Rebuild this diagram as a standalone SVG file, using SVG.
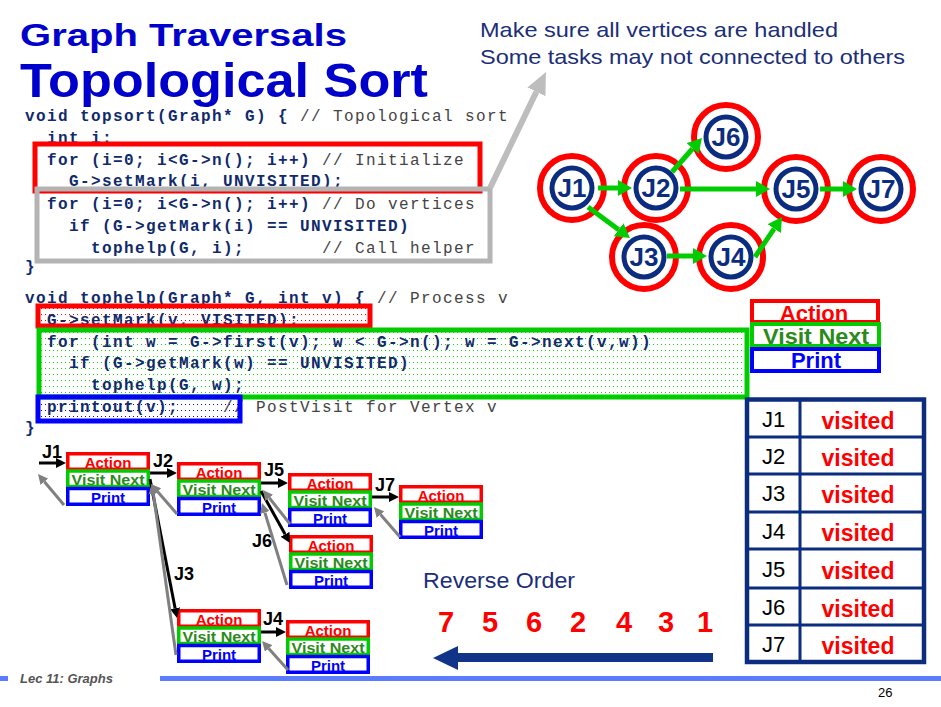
<svg xmlns="http://www.w3.org/2000/svg" width="941" height="707" viewBox="0 0 941 707">
<style>
  .title { font-family: "Liberation Sans", Arial, sans-serif; font-weight: bold; fill: #0000CC; }
  .note { font-family: "Liberation Sans", Arial, sans-serif; font-size: 21px; fill: #1B2E78; }
  .code { font-family: "Liberation Mono", "Courier New", monospace; font-size: 16px; font-weight: bold; letter-spacing: 1.4px; fill: #102A6B; }
  .cmt { font-weight: normal; fill: #444444; }
  .ring { fill: #FFFFFF; stroke: #FF0000; stroke-width: 6; }
  .core { fill: #FFFFFF; stroke: #0B2C7F; stroke-width: 5; }
  .nlabel { font-family: "Liberation Sans", Arial, sans-serif; font-size: 26px; font-weight: bold; fill: #0B2C7F; text-anchor: middle; }
  .edge { stroke: #00CC00; stroke-width: 5; fill: none; marker-end: url(#headG); }
  .call { stroke: #000000; stroke-width: 3; fill: none; marker-end: url(#headK); }
  .ret { stroke: #808080; stroke-width: 3; fill: none; marker-end: url(#headGr); }
  .bR { fill: none; stroke: #FF0000; }
  .bG { fill: none; stroke: #00CC00; }
  .bB { fill: none; stroke: #0000FF; }
  .tA { font-family: "Liberation Sans", Arial, sans-serif; font-weight: bold; fill: #FF0000; text-anchor: middle; }
  .tV { font-family: "Liberation Sans", Arial, sans-serif; font-weight: bold; fill: #2A8A1A; text-anchor: middle; }
  .tP { font-family: "Liberation Sans", Arial, sans-serif; font-weight: bold; fill: #0000FF; text-anchor: middle; }
  .jl { font-family: "Liberation Sans", Arial, sans-serif; font-size: 18px; font-weight: bold; fill: #000000; }
  .tj { font-family: "Liberation Sans", Arial, sans-serif; font-size: 22px; fill: #000000; }
  .tv { font-family: "Liberation Sans", Arial, sans-serif; font-size: 23px; font-weight: bold; fill: #FF0000; text-anchor: middle; }
  .num { font-family: "Liberation Sans", Arial, sans-serif; font-size: 29px; font-weight: bold; fill: #FF0000; text-anchor: middle; }
</style>
<defs>
  <pattern id="dotsR" width="4" height="6" patternUnits="userSpaceOnUse"><rect x="1" y="2" width="1" height="1" fill="#FF0000"/></pattern>
  <pattern id="dotsG" width="4" height="6" patternUnits="userSpaceOnUse"><rect x="1" y="2" width="1" height="1" fill="#00DD00"/></pattern>
  <pattern id="dotsB" width="4" height="6" patternUnits="userSpaceOnUse"><rect x="1" y="2" width="1" height="1" fill="#0000FF"/></pattern>
  <marker id="headG" markerUnits="userSpaceOnUse" markerWidth="14" markerHeight="16" refX="0" refY="8" orient="auto">
    <path d="M0,0 L14,8 L0,16 Z" fill="#00CC00"/>
  </marker>
  <marker id="headK" markerUnits="userSpaceOnUse" markerWidth="10" markerHeight="10" refX="0" refY="5" orient="auto">
    <path d="M0,0 L10,5 L0,10 Z" fill="#000000"/>
  </marker>
  <marker id="headGr" markerUnits="userSpaceOnUse" markerWidth="10" markerHeight="10" refX="0" refY="5" orient="auto">
    <path d="M0,0 L10,5 L0,10 Z" fill="#808080"/>
  </marker>
  <marker id="headCallout" markerUnits="userSpaceOnUse" markerWidth="22" markerHeight="20" refX="0" refY="10" orient="auto">
    <path d="M0,0 L22,10 L0,20 Z" fill="#BDBDBD"/>
  </marker>
  <!-- one activation record: Action / Visit Next / Print -->
  <g id="frame">
    <rect class="bR" x="1.75" y="1.75" width="80.5" height="15.5" stroke-width="3.5"/>
    <rect class="bG" x="1.75" y="19" width="80.5" height="15.5" stroke-width="3.5"/>
    <rect class="bB" x="1.75" y="36.5" width="80.5" height="15.75" stroke-width="3.5"/>
    <text class="tA" x="42" y="16" font-size="15">Action</text>
    <text class="tV" x="42" y="33" font-size="14.5" textLength="73" lengthAdjust="spacingAndGlyphs">Visit Next</text>
    <text class="tP" x="42" y="50.5" font-size="15">Print</text>
  </g>
</defs>

<rect x="0" y="0" width="941" height="707" fill="#FFFFFF"/>

<!-- headings -->
<g id="heading">
  <text class="title" x="20" y="46" font-size="31" textLength="327" lengthAdjust="spacingAndGlyphs">Graph Traversals</text>
  <text class="title" x="20" y="97" font-size="49" textLength="408" lengthAdjust="spacingAndGlyphs">Topological Sort</text>
</g>
<g id="note">
  <text class="note" x="480" y="37" textLength="358" lengthAdjust="spacingAndGlyphs">Make sure all vertices are handled</text>
  <text class="note" x="480" y="64" textLength="425" lengthAdjust="spacingAndGlyphs">Some tasks may not connected to others</text>
</g>

<!-- source listing -->
<g id="code">
  <rect x="38" y="306" width="332" height="20" fill="url(#dotsR)"/>
  <rect x="39" y="330" width="708" height="67" fill="url(#dotsG)"/>
  <rect x="38" y="397" width="202" height="24" fill="url(#dotsB)"/>

  <text class="code" x="25" y="121">void topsort(Graph* G) {<tspan class="cmt" x="300">// Topological sort</tspan></text>
  <text class="code" x="47" y="143">int i;</text>
  <text class="code" x="47" y="165">for (i=0; i&lt;G-&gt;n(); i++)<tspan class="cmt" x="322">// Initialize</tspan></text>
  <text class="code" x="69" y="186">G-&gt;setMark(i, UNVISITED);</text>
  <text class="code" x="47" y="209">for (i=0; i&lt;G-&gt;n(); i++)<tspan class="cmt" x="322">// Do vertices</tspan></text>
  <text class="code" x="69" y="231">if (G-&gt;getMark(i) == UNVISITED)</text>
  <text class="code" x="91" y="253">tophelp(G, i);<tspan class="cmt" x="322">// Call helper</tspan></text>
  <text class="code" x="25" y="272">}</text>

  <text class="code" x="25" y="303">void tophelp(Graph* G, int v) {<tspan class="cmt" x="377">// Process v</tspan></text>
  <text class="code" x="47" y="325">G-&gt;setMark(v, VISITED);</text>
  <text class="code" x="47" y="347">for (int w = G-&gt;first(v); w &lt; G-&gt;n(); w = G-&gt;next(v,w))</text>
  <text class="code" x="69" y="368">if (G-&gt;getMark(w) == UNVISITED)</text>
  <text class="code" x="91" y="390">tophelp(G, w);</text>
  <text class="code" x="47" y="412">printout(v);<tspan class="cmt" x="223">// PostVisit for Vertex v</tspan></text>
  <text class="code" x="25" y="433">}</text>

  <rect x="35" y="144" width="445" height="47" fill="none" stroke="#FF0000" stroke-width="5"/>
  <rect x="37" y="189" width="453" height="72" fill="none" stroke="#B4B4B4" stroke-width="5"/>
  <rect x="38" y="306" width="332" height="20" fill="none" stroke="#FF0000" stroke-width="5"/>
  <rect x="39" y="330" width="708" height="67" fill="none" stroke="#00CC00" stroke-width="5"/>
  <rect x="38" y="397" width="202" height="24" fill="none" stroke="#0000FF" stroke-width="5"/>
</g>

<!-- task graph -->
<g id="n-J1"><circle class="ring" cx="572" cy="188" r="32"/><circle class="core" cx="572" cy="188" r="20"/><text class="nlabel" x="572" y="197">J1</text></g>
<g id="n-J2"><circle class="ring" cx="656" cy="188" r="32"/><circle class="core" cx="656" cy="188" r="20"/><text class="nlabel" x="656" y="197">J2</text></g>
<g id="n-J6"><circle class="ring" cx="726" cy="137" r="32"/><circle class="core" cx="726" cy="137" r="20"/><text class="nlabel" x="726" y="146">J6</text></g>
<g id="n-J5"><circle class="ring" cx="796" cy="189" r="32"/><circle class="core" cx="796" cy="189" r="20"/><text class="nlabel" x="796" y="198">J5</text></g>
<g id="n-J7"><circle class="ring" cx="881" cy="189" r="32"/><circle class="core" cx="881" cy="189" r="20"/><text class="nlabel" x="881" y="198">J7</text></g>
<g id="n-J3"><circle class="ring" cx="644" cy="257" r="32"/><circle class="core" cx="644" cy="257" r="20"/><text class="nlabel" x="644" y="266">J3</text></g>
<g id="n-J4"><circle class="ring" cx="731" cy="257" r="32"/><circle class="core" cx="731" cy="257" r="20"/><text class="nlabel" x="731" y="266">J4</text></g>

<!-- legend -->
<g id="legend">
  <rect x="752" y="301" width="126" height="21" fill="none" stroke="#FF0000" stroke-width="4"/>
  <rect x="752" y="324" width="127" height="22" fill="none" stroke="#00CC00" stroke-width="4"/>
  <rect x="752" y="349" width="127" height="22" fill="none" stroke="#0000FF" stroke-width="4"/>
  <text class="tA" x="814" y="321" font-size="22">Action</text>
  <text class="tV" x="816" y="344" font-size="21.5" textLength="106" lengthAdjust="spacingAndGlyphs">Visit Next</text>
  <text class="tP" x="816" y="368" font-size="22">Print</text>
</g>

<!-- visited table -->
<g id="visited-table">
  <rect x="747" y="399.5" width="177" height="262.5" fill="#FFFFFF" stroke="#0B2C7F" stroke-width="4.5"/>
  <g stroke="#0B2C7F" stroke-width="3">
    <line x1="800" y1="399" x2="800" y2="662"/>
    <line x1="747" y1="437" x2="924" y2="437"/>
    <line x1="747" y1="474" x2="924" y2="474"/>
    <line x1="747" y1="512" x2="924" y2="512"/>
    <line x1="747" y1="549" x2="924" y2="549"/>
    <line x1="747" y1="588" x2="924" y2="588"/>
    <line x1="747" y1="625" x2="924" y2="625"/>
  </g>
  <text class="tj" x="762" y="427">J1</text><text class="tv" x="858" y="429">visited</text>
  <text class="tj" x="762" y="464">J2</text><text class="tv" x="858" y="466">visited</text>
  <text class="tj" x="762" y="501">J3</text><text class="tv" x="858" y="503">visited</text>
  <text class="tj" x="762" y="539">J4</text><text class="tv" x="858" y="541">visited</text>
  <text class="tj" x="762" y="577">J5</text><text class="tv" x="858" y="579">visited</text>
  <text class="tj" x="762" y="615">J6</text><text class="tv" x="858" y="617">visited</text>
  <text class="tj" x="762" y="652">J7</text><text class="tv" x="858" y="654">visited</text>
</g>

<!-- recursion trace -->
<g id="f-J1"><use href="#frame" x="66" y="452"/><text class="jl" x="42" y="458">J1</text></g>
<g id="f-J2"><use href="#frame" x="177" y="462"/><text class="jl" x="153" y="467">J2</text></g>
<g id="f-J5"><use href="#frame" x="288" y="473"/><text class="jl" x="264" y="476">J5</text></g>
<g id="f-J7"><use href="#frame" x="399" y="485"/><text class="jl" x="375" y="491">J7</text></g>
<g id="f-J6"><use href="#frame" x="289" y="535"/><text class="jl" x="252" y="547">J6</text></g>
<g id="f-J3"><use href="#frame" x="177" y="609"/><text class="jl" x="174" y="580">J3</text></g>
<g id="f-J4"><use href="#frame" x="286" y="620"/><text class="jl" x="263" y="625">J4</text></g>

<!-- reverse order -->
<g id="reverse-order">
  <text x="423" y="588" font-family="'Liberation Sans', Arial, sans-serif" font-size="22" fill="#1B2E78" textLength="152" lengthAdjust="spacingAndGlyphs">Reverse Order</text>
  <text class="num" x="446" y="632">7</text>
  <text class="num" x="490" y="632">5</text>
  <text class="num" x="534" y="632">6</text>
  <text class="num" x="578" y="632">2</text>
  <text class="num" x="624" y="632">4</text>
  <text class="num" x="666" y="632">3</text>
  <text class="num" x="705" y="632">1</text>
  <line x1="456" y1="657.5" x2="713" y2="657.5" stroke="#123488" stroke-width="9"/>
  <polygon points="433,658 458,646 458,670" fill="#123488"/>
</g>

<!-- connectors -->
<g id="connectors">
  <line x1="490" y1="188" x2="536.4" y2="91.8" stroke="#BDBDBD" stroke-width="6" marker-end="url(#headCallout)"/>

  <line class="edge" x1="598" y1="188" x2="618" y2="188"/>
  <line class="edge" x1="672" y1="172" x2="692.7" y2="148.5"/>
  <line class="edge" x1="680" y1="189" x2="756" y2="189"/>
  <line class="edge" x1="820" y1="189" x2="843" y2="189"/>
  <line class="edge" x1="588" y1="207" x2="618.7" y2="229.7"/>
  <line class="edge" x1="667" y1="256" x2="693" y2="256"/>
  <line class="edge" x1="755" y1="257" x2="774.2" y2="228.6"/>

  <line class="call" x1="39" y1="463" x2="56" y2="463"/>
  <line class="call" x1="150" y1="473" x2="167" y2="473"/>
  <line class="call" x1="261" y1="483" x2="278" y2="483"/>
  <line class="call" x1="372" y1="497" x2="389" y2="497"/>
  <line class="call" x1="261" y1="491" x2="285.1" y2="534.3"/>
  <line class="call" x1="150" y1="479" x2="175.1" y2="608.2"/>
  <line class="call" x1="261" y1="632" x2="276" y2="632"/>

  <line class="ret" x1="64" y1="505" x2="44.4" y2="481.7"/>
  <line class="ret" x1="177" y1="514" x2="157.5" y2="491.6"/>
  <line class="ret" x1="290" y1="524" x2="269.2" y2="497.8"/>
  <line class="ret" x1="287" y1="585" x2="264.9" y2="512.6"/>
  <line class="ret" x1="400" y1="537" x2="380.5" y2="514.6"/>
  <line class="ret" x1="176" y1="655" x2="153.4" y2="493.9"/>
  <line class="ret" x1="288" y1="670" x2="268.7" y2="648.5"/>
</g>

<!-- footer -->
<g id="footer">
  <rect x="0" y="676" width="8" height="5" fill="#5B7CFF"/>
  <rect x="160" y="676" width="781" height="5" fill="#5B7CFF"/>
  <text x="20" y="683" font-family="'Liberation Sans', Arial, sans-serif" font-size="13" font-weight="bold" font-style="italic" fill="#555555">Lec 11: Graphs</text>
  <text x="878" y="697" font-family="'Liberation Sans', Arial, sans-serif" font-size="13" fill="#000000">26</text>
</g>
</svg>
